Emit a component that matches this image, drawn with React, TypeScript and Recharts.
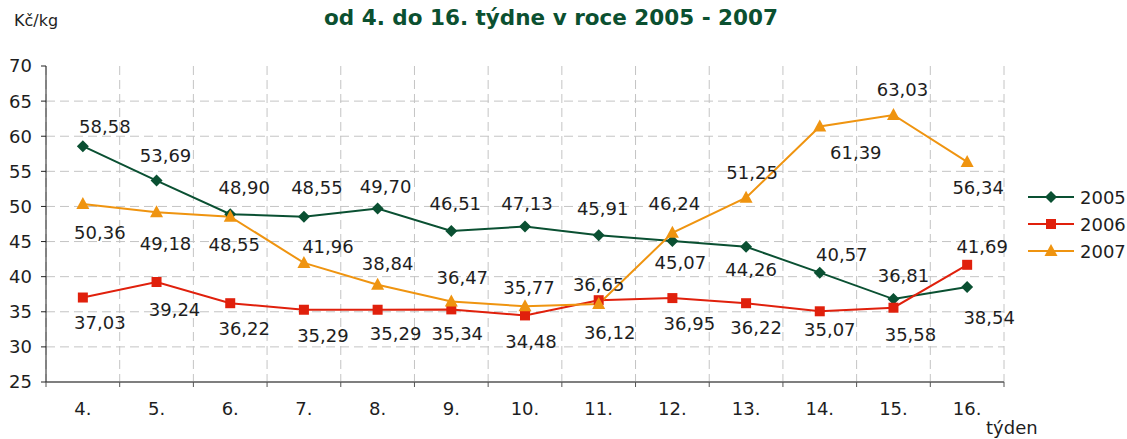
import { LineChart, Line, XAxis, YAxis, CartesianGrid, Legend, LabelList } from "recharts";

// týdny 4.–16.
const weeks = [4, 5, 6, 7, 8, 9, 10, 11, 12, 13, 14, 15, 16];
const prices2005 = [58.58, 53.69, 48.9, 48.55, 49.7, 46.51, 47.13, 45.91, 45.07, 44.26, 40.57, 36.81, 38.54];
const prices2006 = [37.03, 39.24, 36.22, 35.29, 35.29, 35.34, 34.48, 36.65, 36.95, 36.22, 35.07, 35.58, 41.69];
const prices2007 = [50.36, 49.18, 48.55, 41.96, 38.84, 36.47, 35.77, 36.12, 46.24, 51.25, 61.39, 63.03, 56.34];
const yTicks = [25, 30, 35, 40, 45, 50, 55, 60, 65, 70];
const gridValues = [30, 35, 40, 45, 50, 55, 60, 65];

const data = weeks.map((w, i) => ({
  week: w,
  y2005: prices2005[i],
  y2006: prices2006[i],
  y2007: prices2007[i],
}));

// hranice mezi kategoriemi (mřížka + značky na ose x)
const bounds = [...weeks.map((w) => w - 0.5), weeks[weeks.length - 1] + 0.5];

// ruční umístění popisků [dx, dy] vůči bodu
const offsets2005 = [[22, -20], [9, -25], [14, -27], [13, -29], [8, -22], [4, -27], [2, -23], [4, -27], [8, 21], [5, 23], [22, -18], [10, -24], [22, 31]];
const offsets2006 = [[17, 25], [18, 27], [14, 25], [19, 26], [18, 24], [6, 24], [6, 26], [0, -16], [17, 25], [10, 24], [10, 18], [17, 27], [15, -18]];
const offsets2007 = [[17, 29], [9, 31], [4, 28], [24, -16], [10, -21], [11, -24], [4, -19], [11, 29], [2, -29], [6, -25], [36, 26], [9, -25], [11, 26]];

const FONT = "'DejaVu Sans', Verdana, sans-serif";
const TEXT = "#1e1e1e";

const series = [
  { key: "y2005", name: "2005", color: "#0a5032", shape: "diamond", offsets: offsets2005 },
  { key: "y2006", name: "2006", color: "#e0200c", shape: "square", offsets: offsets2006 },
  { key: "y2007", name: "2007", color: "#ef9410", shape: "triangle", offsets: offsets2007 },
];

const Marker = ({ cx, cy, shape, color }: any) => {
  if (cx == null || cy == null) return null;
  if (shape === "diamond")
    return <path d={`M${cx} ${cy - 6}L${cx + 6} ${cy}L${cx} ${cy + 6}L${cx - 6} ${cy}Z`} fill={color} />;
  if (shape === "square") return <rect x={cx - 5} y={cy - 5} width={10} height={10} fill={color} />;
  return <path d={`M${cx} ${cy - 7}L${cx + 6.5} ${cy + 5}L${cx - 6.5} ${cy + 5}Z`} fill={color} />;
};

const fmt = (v: number) => v.toFixed(2).replace(".", ",");

const makeLabel = (offs: number[][]) => (props: any) => {
  const { x, y, value, index } = props;
  const [dx, dy] = offs[index] || [0, -20];
  return (
    <text
      key={index}
      x={x + dx}
      y={y + dy}
      textAnchor="middle"
      dominantBaseline="central"
      fontSize={18}
      fontFamily={FONT}
      fill={TEXT}
    >
      {fmt(value)}
    </text>
  );
};

const LegendBox = ({ payload }: any) => (
  <svg width={100} height={82}>
    {series.map((s, i) => {
      const item = (payload || []).find((p: any) => p.dataKey === s.key);
      const color = item ? item.color : s.color;
      const cy = 13 + i * 27;
      return (
        <g key={s.key}>
          <line x1={2} x2={48} y1={cy} y2={cy} stroke={color} strokeWidth={2} />
          <Marker cx={25} cy={cy} shape={s.shape} color={color} />
          <text x={54} y={cy} dominantBaseline="central" fontSize={18} fontFamily={FONT} fill={TEXT}>
            {item ? item.value : s.name}
          </text>
        </g>
      );
    })}
  </svg>
);

export default function App() {
  return (
    <div style={{ position: "absolute", left: 0, top: 0, width: 1127, height: 439, fontFamily: FONT, background: "#fff" }}>
      <div
        style={{
          position: "absolute", left: 0, top: 7, width: 1102, textAlign: "center",
          fontSize: 21.5, lineHeight: "22px", fontWeight: "bold", color: "#0b5030",
        }}
      >
        od 4. do 16. týdne v roce 2005 - 2007
      </div>
      <div style={{ position: "absolute", left: 14, top: 13, fontSize: 16, lineHeight: "16px", color: TEXT }}>
        Kč/kg
      </div>
      <div style={{ position: "absolute", left: 986, top: 419, fontSize: 18, lineHeight: "18px", color: TEXT }}>
        týden
      </div>
      <LineChart width={1127} height={439} data={data} margin={{ top: 66, right: 123, bottom: 55, left: 0 }}>
        <CartesianGrid
          xAxisId="weeks"
          stroke="#c4c4c4"
          strokeDasharray="9 5"
          horizontalValues={gridValues}
          verticalValues={bounds}
        />
        <XAxis
          xAxisId="bounds"
          type="number"
          dataKey="week"
          domain={[bounds[0], bounds[bounds.length - 1]]}
          ticks={bounds}
          interval={0}
          height={1}
          tickFormatter={() => ""}
          tickSize={5}
          tickLine={{ stroke: "#555" }}
          axisLine={{ stroke: "#7f7f7f", strokeWidth: 2 }}
        />
        <XAxis
          xAxisId="weeks"
          type="number"
          dataKey="week"
          domain={[bounds[0], bounds[bounds.length - 1]]}
          ticks={weeks}
          interval={0}
          height={1}
          tickFormatter={(v) => `${v}.`}
          tickLine={false}
          axisLine={false}
          tickSize={0}
          tickMargin={19}
          tick={{ fontSize: 18, fill: TEXT, fontFamily: FONT }}
        />
        <YAxis
          type="number"
          domain={[25, 70]}
          ticks={yTicks}
          interval={0}
          width={46}
          tickSize={5}
          tickMargin={9}
          tickLine={{ stroke: "#222" }}
          axisLine={{ stroke: "#222" }}
          tick={{ fontSize: 18, fill: TEXT, fontFamily: FONT }}
        />
        <Legend
          layout="horizontal"
          verticalAlign="middle"
          align="center"
          wrapperStyle={{ left: 1026, top: 184, width: 100, height: 82 }}
          content={<LegendBox />}
        />
        {series.map((s) => (
          <Line
            key={s.key}
            xAxisId="weeks"
            type="linear"
            dataKey={s.key}
            name={s.name}
            stroke={s.color}
            strokeWidth={2}
            isAnimationActive={false}
            dot={(p: any) => <Marker key={`${s.key}-${p.index}`} cx={p.cx} cy={p.cy} shape={s.shape} color={s.color} />}
            activeDot={false}
          >
            <LabelList dataKey={s.key} content={makeLabel(s.offsets)} />
          </Line>
        ))}
      </LineChart>
    </div>
  );
}
